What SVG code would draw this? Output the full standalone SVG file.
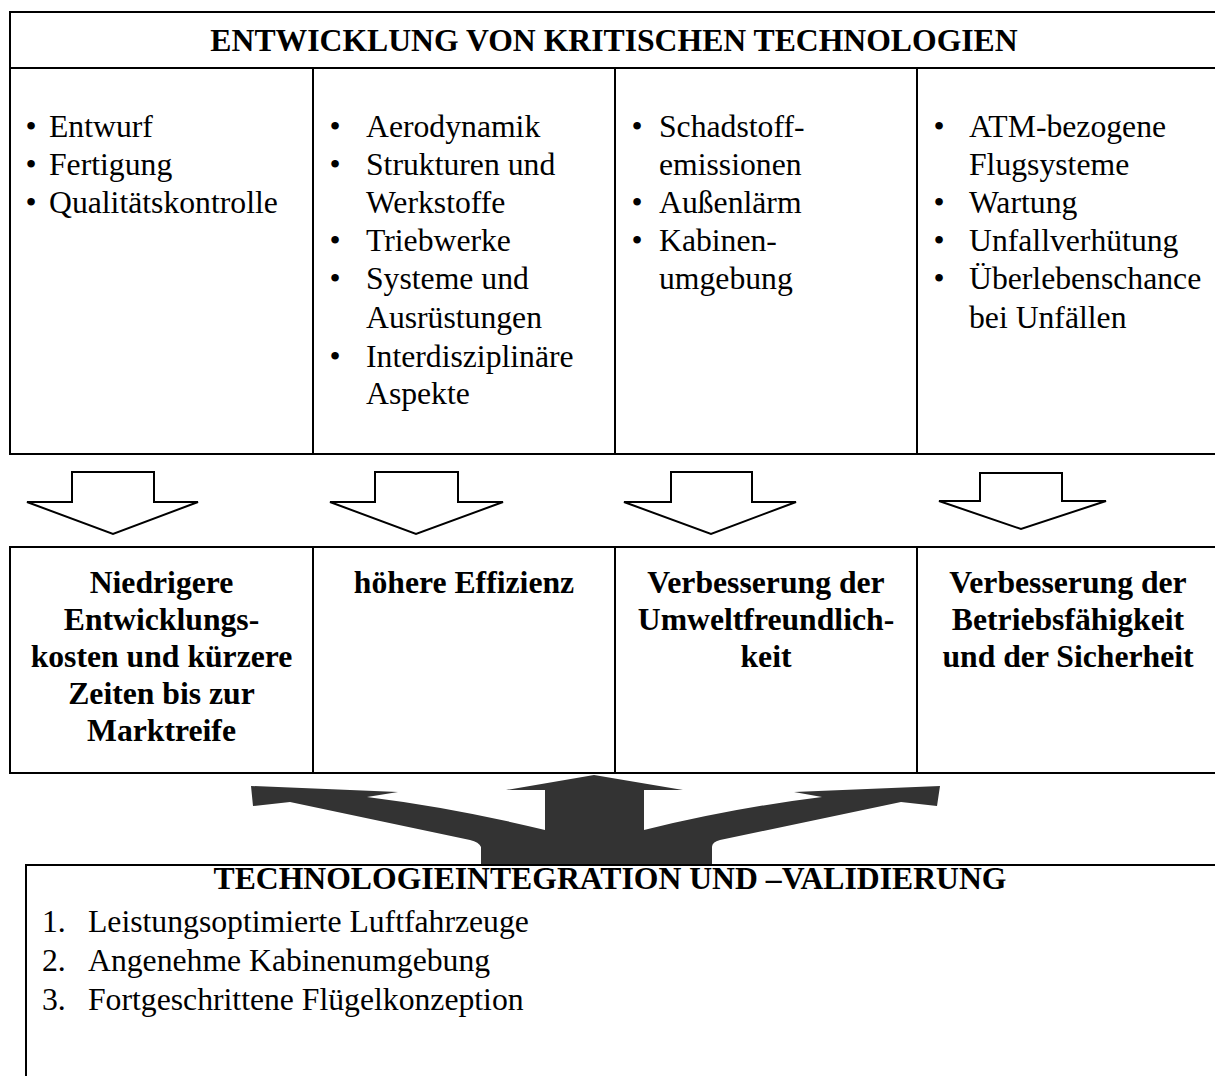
<svg xmlns="http://www.w3.org/2000/svg" width="1215" height="1076" viewBox="0 0 1215 1076">
<style>
.ln{stroke:#000;stroke-width:2;fill:none}
.t{font-family:"Liberation Serif","Times New Roman",serif;font-size:31.7px;fill:#000}
.b{font-family:"Liberation Serif","Times New Roman",serif;font-size:31.7px;font-weight:bold;fill:#000}
.m{text-anchor:middle}
.arr{fill:#fff;stroke:#000;stroke-width:2;stroke-linejoin:miter}
</style>
<rect width="1215" height="1076" fill="#fff"/>
<g id="top-table">
<path class="ln" d="M10,12H1216M10,68H1216M10,454H1216M10,11V455M313,68V454M615,68V454M917,68V454"/>
<text class="b m" x="614" y="51">ENTWICKLUNG VON KRITISCHEN TECHNOLOGIEN</text>
</g>
<g id="col1">
<text class="t m" x="31" y="137">•</text><text class="t" x="49" y="137">Entwurf</text>
<text class="t m" x="31" y="175">•</text><text class="t" x="49" y="175">Fertigung</text>
<text class="t m" x="31" y="213">•</text><text class="t" x="49" y="213">Qualitätskontrolle</text>
</g>
<g id="col2">
<text class="t m" x="335" y="137">•</text><text class="t" x="366" y="137">Aerodynamik</text>
<text class="t m" x="335" y="175">•</text><text class="t" x="366" y="175">Strukturen und</text>
<text class="t" x="366" y="213">Werkstoffe</text>
<text class="t m" x="335" y="251">•</text><text class="t" x="366" y="251">Triebwerke</text>
<text class="t m" x="335" y="289">•</text><text class="t" x="366" y="289">Systeme und</text>
<text class="t" x="366" y="328">Ausrüstungen</text>
<text class="t m" x="335" y="367">•</text><text class="t" x="366" y="367">Interdisziplinäre</text>
<text class="t" x="366" y="404">Aspekte</text>
</g>
<g id="col3">
<text class="t m" x="637" y="137">•</text><text class="t" x="659" y="137">Schadstoff-</text>
<text class="t" x="659" y="175">emissionen</text>
<text class="t m" x="637" y="213">•</text><text class="t" x="659" y="213">Außenlärm</text>
<text class="t m" x="637" y="251">•</text><text class="t" x="659" y="251">Kabinen-</text>
<text class="t" x="659" y="289">umgebung</text>
</g>
<g id="col4">
<text class="t m" x="939" y="137">•</text><text class="t" x="969" y="137">ATM-bezogene</text>
<text class="t" x="969" y="175">Flugsysteme</text>
<text class="t m" x="939" y="213">•</text><text class="t" x="969" y="213">Wartung</text>
<text class="t m" x="939" y="251">•</text><text class="t" x="969" y="251">Unfallverhütung</text>
<text class="t m" x="939" y="289">•</text><text class="t" x="969" y="289">Überlebenschance</text>
<text class="t" x="969" y="328">bei Unfällen</text>
</g>
<g id="connectors">
<path class="arr" d="M72,472H154V502H198L113,534L27,502H72Z"/>
<path class="arr" d="M375,472H458V502H503L416,534L330,502H375Z"/>
<path class="arr" d="M671,472H752V502H796L711,534L624,502H671Z"/>
<path class="arr" d="M980,473H1062V501H1106L1021,529L939,501H980Z"/>
<path fill="#333" d="M594,775L683,790H644V830Q733,808 822,797L794,792L940,786L937,806L901,802L720,840Q712,842 712,847V865H481V847Q479,842 470,840L290,802L253,806L251,786L398,792L367,797Q455,808 545,830V790H506Z"/>
</g>
<g id="bottom-row">
<path class="ln" d="M10,547H1216M10,773H1216M10,546V774M313,547V773M615,547V773M917,547V773"/>
</g>
<g id="box1">
<text class="b m" x="161.5" y="593">Niedrigere</text>
<text class="b m" x="161.5" y="630">Entwicklungs-</text>
<text class="b m" x="161.5" y="667">kosten und kürzere</text>
<text class="b m" x="161.5" y="704">Zeiten bis zur</text>
<text class="b m" x="161.5" y="741">Marktreife</text>
</g>
<g id="box2">
<text class="b m" x="464" y="593">höhere Effizienz</text>
</g>
<g id="box3">
<text class="b m" x="766" y="593">Verbesserung der</text>
<text class="b m" x="766" y="630">Umweltfreundlich-</text>
<text class="b m" x="766" y="667">keit</text>
</g>
<g id="box4">
<text class="b m" x="1068" y="593">Verbesserung der</text>
<text class="b m" x="1068" y="630">Betriebsfähigkeit</text>
<text class="b m" x="1068" y="667">und der Sicherheit</text>
</g>
<g id="integration">
<path class="ln" d="M26,865H1216M26,864V1077"/>
<text class="b m" x="610" y="889">TECHNOLOGIEINTEGRATION UND –VALIDIERUNG</text>
<text class="t" x="42" y="932">1.</text><text class="t" x="88" y="932">Leistungsoptimierte Luftfahrzeuge</text>
<text class="t" x="42" y="971">2.</text><text class="t" x="88" y="971">Angenehme Kabinenumgebung</text>
<text class="t" x="42" y="1010">3.</text><text class="t" x="88" y="1010">Fortgeschrittene Flügelkonzeption</text>
</g>
</svg>
